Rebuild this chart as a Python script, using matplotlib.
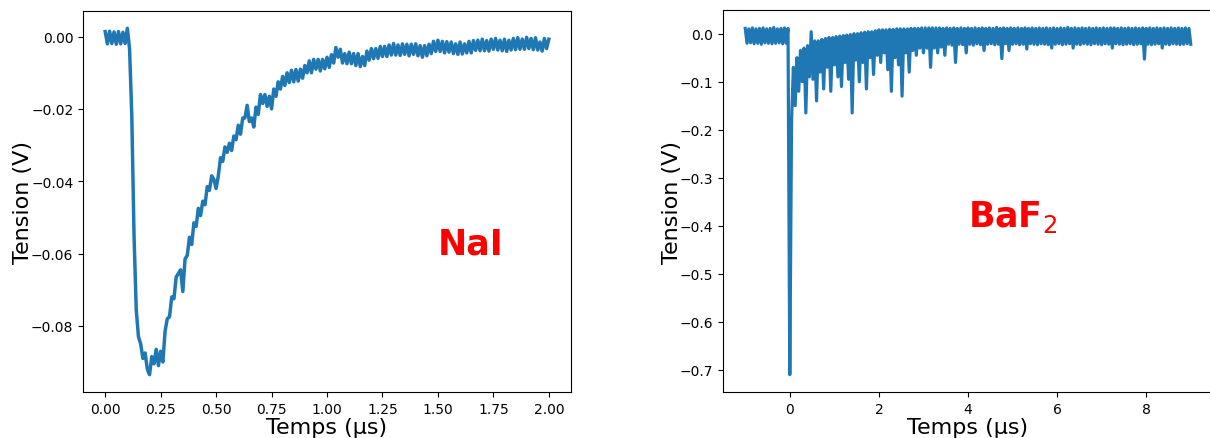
import numpy as np
from matplotlib import pyplot as plt

# NaI : signal echantillonne tous les 0.01 us de 0 a 2 us
t_nai = np.linspace(0, 2, 201)
v_nai = [0.0014, -0.0020, 0.0015, -0.0019, 0.0013, -0.0021, 0.0014, -0.0020, 0.0012, -0.0019,
         0.0023, -0.0035, -0.0220, -0.0550, -0.0756, -0.0830, -0.0850, -0.0890, -0.0875, -0.0920,
         -0.0935, -0.0885, -0.0905, -0.0865, -0.0910, -0.0870, -0.0900, -0.0815, -0.0780, -0.0775,
         -0.0720, -0.0725, -0.0665, -0.0655, -0.0645, -0.0705, -0.0615, -0.0605, -0.0555, -0.0575,
         -0.0515, -0.0525, -0.0475, -0.0495, -0.0455, -0.0465, -0.0415, -0.0425, -0.0385, -0.0395,
         -0.0420, -0.0385, -0.0335, -0.0345, -0.0305, -0.0320, -0.0295, -0.0315, -0.0275, -0.0285,
         -0.0245, -0.0270, -0.0225, -0.0225, -0.0190, -0.0235, -0.0225, -0.0250, -0.0195, -0.0215,
         -0.0160, -0.0185, -0.0160, -0.0193, -0.0165, -0.0200, -0.0145, -0.0165, -0.0125, -0.0145,
         -0.0110, -0.0135, -0.0100, -0.0127, -0.0093, -0.0125, -0.0091, -0.0123, -0.0090, -0.0115,
         -0.0080, -0.0100, -0.0067, -0.0100, -0.0063, -0.0090, -0.0063, -0.0095, -0.0063, -0.0089,
         -0.0057, -0.0085, -0.0050, -0.0073, -0.0030, -0.0057, -0.0035, -0.0073, -0.0047, -0.0075,
         -0.0043, -0.0075, -0.0047, -0.0080, -0.0047, -0.0083, -0.0055, -0.0080, -0.0040, -0.0065,
         -0.0033, -0.0061, -0.0033, -0.0060, -0.0027, -0.0055, -0.0027, -0.0055, -0.0023, -0.0051,
         -0.0019, -0.0051, -0.0023, -0.0052, -0.0020, -0.0049, -0.0021, -0.0053, -0.0021, -0.0049,
         -0.0020, -0.0053, -0.0025, -0.0057, -0.0025, -0.0053, -0.0021, -0.0047, -0.0013, -0.0041,
         -0.0010, -0.0041, -0.0013, -0.0045, -0.0014, -0.0043, -0.0015, -0.0047, -0.0020, -0.0049,
         -0.0015, -0.0048, -0.0020, -0.0045, -0.0013, -0.0045, -0.0011, -0.0038, -0.0010, -0.0039,
         -0.0007, -0.0039, -0.0011, -0.0040, -0.0007, -0.0035, -0.0005, -0.0037, -0.0010, -0.0039,
         -0.0007, -0.0041, -0.0010, -0.0037, -0.0005, -0.0036, -0.0003, -0.0035, -0.0007, -0.0035,
         -0.0002, -0.0033, -0.0005, -0.0036, -0.0003, -0.0037, -0.0015, -0.0040, -0.0005, -0.0033,
         -0.0007]

# BaF2 : echantillonne tous les 0.04 us de -1 a 9 us
t_baf = np.linspace(-1, 9, 251)
v_baf = [0.011, -0.020, 0.010, -0.019, 0.012, -0.021, 0.010, -0.020, 0.011, -0.022,
         0.012, -0.019, 0.010, -0.020, 0.011, -0.021, 0.013, -0.020, 0.010, -0.019,
         0.011, -0.021, 0.012, -0.020, 0.011,
         -0.710,
         -0.180, -0.070, -0.150, -0.050, -0.120, -0.035, -0.100, -0.030, -0.165, -0.025,
         -0.090, 0.004, -0.095, -0.015, -0.140, -0.015, -0.080, -0.012, -0.115, -0.010,
         -0.070, -0.008, -0.120, -0.008, -0.065, -0.006, -0.090, -0.005, -0.110, -0.004,
         -0.060, -0.003, -0.095, -0.002, -0.165, 0.000, -0.055, 0.000, -0.100, 0.002,
         -0.060, 0.003, -0.115, 0.004, -0.050, 0.004, -0.085, 0.006, -0.045, 0.008,
         -0.060, 0.008, -0.040, 0.008, -0.075, 0.009, -0.120, 0.009, -0.050, 0.010,
         -0.065, 0.010, -0.130, 0.010, -0.040, 0.010, -0.080, 0.011, -0.035, 0.011,
         -0.045, 0.011, -0.030, 0.012, -0.040, 0.012, -0.030, 0.012, -0.070, 0.012,
         -0.030, 0.012, -0.040, 0.012, -0.028, 0.011, -0.045, 0.012, -0.022, 0.011,
         -0.024, 0.012, -0.060, 0.011, -0.022, 0.012, -0.023, 0.011, -0.040, 0.012,
         -0.022, 0.011, -0.024, 0.012, -0.021, 0.011, -0.023, 0.012, -0.035, 0.011,
         -0.022, 0.012, -0.021, 0.011, -0.023, 0.013, -0.022, 0.011, -0.052, 0.012,
         -0.021, 0.011, -0.035, 0.012, -0.022, 0.011, -0.021, 0.012, -0.023, 0.011,
         -0.022, 0.012, -0.032, 0.011, -0.021, 0.012, -0.022, 0.011, -0.023, 0.012,
         -0.021, 0.011, -0.022, 0.012, -0.023, 0.011, -0.030, 0.012, -0.022, 0.011,
         -0.021, 0.012, -0.023, 0.011, -0.022, 0.013, -0.021, 0.011, -0.030, 0.012,
         -0.022, 0.011, -0.023, 0.012, -0.021, 0.011, -0.022, 0.012, -0.023, 0.011,
         -0.021, 0.012, -0.022, 0.011, -0.023, 0.012, -0.021, 0.011, -0.022, 0.012,
         -0.030, 0.012, -0.021, 0.011, -0.022, 0.012, -0.023, 0.011, -0.022, 0.012,
         -0.021, 0.011, -0.023, 0.012, -0.022, 0.011, -0.021, 0.012, -0.053, 0.011,
         -0.022, 0.012, -0.023, 0.011, -0.022, 0.012, -0.021, 0.011, -0.030, 0.012,
         -0.022, 0.011, -0.023, 0.012, -0.021, 0.011, -0.022, 0.012, -0.023, 0.011,
         -0.022, 0.012, -0.021, 0.011, -0.022]

fig = plt.figure(figsize=(12.1, 4.39), dpi=100)
ax1 = fig.add_axes([0.0686, 0.1048, 0.4033, 0.8679])
ax2 = fig.add_axes([0.5975, 0.1048, 0.405, 0.870])

ax1.plot(t_nai, v_nai, color='#1f77b4', lw=2.5)
ax1.set_xlabel("Temps (µs)", fontsize=16, labelpad=1)
ax1.set_ylabel("Tension (V)", fontsize=16)
ax1.yaxis.set_label_coords(-0.1025, 0.5)
ax1.tick_params(labelsize=10)
ax1.text(1.5, -0.06, "NaI", color='red', fontsize=25, fontweight='bold')

ax2.plot(t_baf, v_baf, color='#1f77b4', lw=2.3)
ax2.set_xlabel("Temps (µs)", fontsize=16, labelpad=1)
ax2.set_ylabel("Tension (V)", fontsize=16)
ax2.yaxis.set_label_coords(-0.084, 0.5)
ax2.tick_params(labelsize=10)
ax2.text(4, -0.4, r"BaF$_2$", color='red', fontsize=25, fontweight='bold')

fig.savefig("out.png", dpi=100)
